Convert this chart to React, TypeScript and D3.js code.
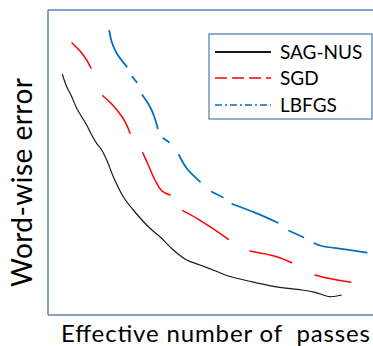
import React from "react";
import * as d3 from "d3";

type P = [number, number] | null;

// Effective number of passes (x) vs word-wise error (y, %); null = pen lift between dashes
const sagNus: P[] = [
  [2.2, 29.07], [2.88, 27.83], [3.65, 26.83], [4.42, 25.67], [5.18, 24.83], [5.95, 24.0],
  [6.72, 23.0], [7.49, 22.17], [8.26, 21.5], [9.03, 20.5], [10.05, 18.83], [11.58, 16.83],
  [13.12, 15.5], [15.69, 13.67], [17.23, 12.83], [19.28, 11.5], [21.34, 10.5], [23.38, 10.0],
  [25.69, 9.43], [27.74, 8.9], [30.82, 8.4], [34.92, 7.83], [39.03, 7.5], [41.08, 7.27],
  [43.38, 6.83], [45.18, 7.0],
];

const sgd: P[] = [
  [3.69, 32.2], [4.92, 31.4], [5.95, 30.5], [6.62, 29.67], null,
  [8.42, 26.93], [9.54, 26.27], [10.82, 25.33], [11.85, 24.33], [12.62, 23.17], null,
  [14.57, 21.23], [15.43, 20.0], [16.46, 18.5], [17.49, 17.43], [18.77, 17.0], null,
  [20.72, 15.43], [22.88, 14.67], [24.92, 13.83], [27.74, 12.57], null,
  [31.08, 11.4], [35.18, 10.83], [37.49, 10.23], null,
  [41.08, 9.0], [43.12, 8.67], [46.57, 8.27],
];

const lbfgs: P[] = [
  [9.43, 33.4], [9.8, 32.33], [10.57, 31.17], [12.11, 29.83], null,
  [12.97, 28.83], [13.65, 28.27], null,
  [14.51, 27.0], [15.69, 25.83], [16.35, 24.83], [16.88, 23.67], null,
  [17.74, 22.67], [18.62, 22.27], null,
  [20.15, 21.0], [21.34, 19.67], [23.38, 18.33], null,
  [25.18, 17.33], [26.88, 16.77], null,
  [28.35, 16.1], [31.85, 15.23], [35.34, 14.23], null,
  [37.08, 13.43], [39.28, 12.77], null,
  [40.97, 12.17], [42.11, 11.9], [45.69, 11.57], [49.03, 11.23],
];

const seriesNames = ["SAG-NUS", "SGD", "LBFGS"];
const seriesColors = ["#1a1a1a", "#ff0000", "#0070c0"];
const xLabel = "Effective number of  passes";
const yLabel = "Word-wise error";

const W = 373;
const H = 346;
const frame = "#5b84b1";
const font = "Lato, 'Open Sans', sans-serif";

export default function App() {
  const x = d3.scaleLinear().domain([0, 50]).range([48, 373]);
  const y = d3.scaleLinear().domain([5, 35.5]).range([315, 10]);
  const line = d3
    .line<P>()
    .defined((d) => d !== null)
    .x((d) => x((d as [number, number])[0]))
    .y((d) => y((d as [number, number])[1]))
    .curve(d3.curveCatmullRom);

  const legendY = [52, 78, 105];
  const legendDash = ["none", "12,5", "7,3,2,3"];

  return (
    <svg
      width={W}
      height={H}
      style={{ position: "absolute", left: 0, top: 0, background: "#fff" }}
    >
      <rect x={0} y={0} width={W} height={H} fill="#fff" />
      {/* frame */}
      <line x1={48} y1={10} x2={W} y2={10} stroke={frame} strokeWidth={1.5} />
      <line x1={48} y1={10} x2={48} y2={315} stroke={frame} strokeWidth={1.5} />
      <line x1={48} y1={315} x2={W} y2={315} stroke={frame} strokeWidth={1.5} />

      <path d={line(sagNus) || ""} fill="none" stroke={seriesColors[0]} strokeWidth={1.2} />
      <path d={line(sgd) || ""} fill="none" stroke={seriesColors[1]} strokeWidth={1.5} strokeLinecap="round" />
      <path d={line(lbfgs) || ""} fill="none" stroke={seriesColors[2]} strokeWidth={1.8} strokeLinecap="round" />

      {/* legend */}
      <rect x={209} y={34} width={163} height={85} fill="#fff" stroke={frame} strokeWidth={1.3} />
      {seriesNames.map((n, i) => (
        <g key={n}>
          <line
            x1={215}
            x2={271}
            y1={legendY[i]}
            y2={legendY[i]}
            stroke={seriesColors[i]}
            strokeWidth={i === 0 ? 2 : 1.6}
            strokeDasharray={legendDash[i]}
          />
          <text x={280} y={legendY[i] + 6.5} fontFamily={font} fontSize={19} fill="#000">
            {n}
          </text>
        </g>
      ))}

      <text
        x={61}
        y={342}
        fontFamily={font}
        fontSize={24}
        fill="#000"
        textLength={309}
        lengthAdjust="spacing"
        style={{ whiteSpace: "pre" }}
      >
        {xLabel}
      </text>
      <text
        transform="translate(32,182.5) rotate(-90)"
        textAnchor="middle"
        fontFamily={font}
        fontSize={28}
        fill="#000"
        textLength={209}
        lengthAdjust="spacing"
      >
        {yLabel}
      </text>
    </svg>
  );
}
